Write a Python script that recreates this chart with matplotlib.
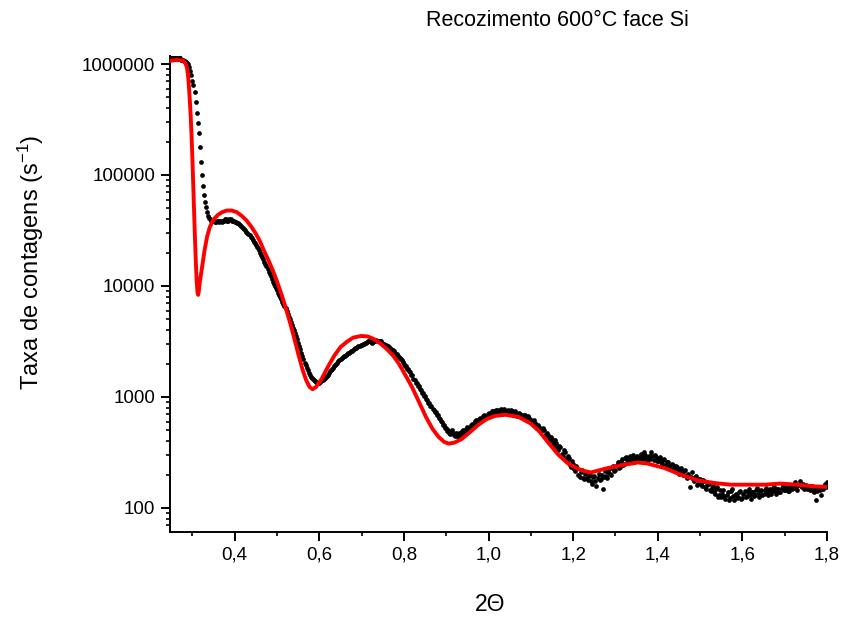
import numpy as np
import matplotlib
matplotlib.use('Agg')
import matplotlib.pyplot as plt
from matplotlib import ticker

plt.rcParams['font.family'] = ['Liberation Sans', 'DejaVu Sans']
plt.rcParams['mathtext.fontset'] = 'custom'
plt.rcParams['mathtext.rm'] = 'Liberation Sans'
plt.rcParams['mathtext.default'] = 'regular'

# measured scan: 2theta and log10 of count rate
two_theta = [
    0.2500, 0.2525, 0.2550, 0.2575, 0.2600, 0.2625, 0.2650, 0.2675, 0.2700, 0.2725,
    0.2750, 0.2775, 0.2800, 0.2825, 0.2850, 0.2875, 0.2900, 0.2925, 0.2950, 0.2975,
    0.3000, 0.3025, 0.3050, 0.3075, 0.3100, 0.3125, 0.3150, 0.3175, 0.3200, 0.3225,
    0.3250, 0.3275, 0.3300, 0.3325, 0.3350, 0.3375, 0.3400, 0.3425, 0.3450, 0.3475,
    0.3500, 0.3525, 0.3550, 0.3575, 0.3600, 0.3625, 0.3650, 0.3675, 0.3700, 0.3725,
    0.3750, 0.3775, 0.3800, 0.3825, 0.3850, 0.3875, 0.3900, 0.3925, 0.3950, 0.3975,
    0.4000, 0.4025, 0.4050, 0.4075, 0.4100, 0.4125, 0.4150, 0.4175, 0.4200, 0.4225,
    0.4250, 0.4275, 0.4300, 0.4325, 0.4350, 0.4375, 0.4400, 0.4425, 0.4450, 0.4475,
    0.4500, 0.4525, 0.4550, 0.4575, 0.4600, 0.4625, 0.4650, 0.4675, 0.4700, 0.4725,
    0.4750, 0.4775, 0.4800, 0.4825, 0.4850, 0.4875, 0.4900, 0.4925, 0.4950, 0.4975,
    0.5000, 0.5025, 0.5050, 0.5075, 0.5100, 0.5125, 0.5150, 0.5175, 0.5200, 0.5225,
    0.5250, 0.5275, 0.5300, 0.5325, 0.5350, 0.5375, 0.5400, 0.5425, 0.5450, 0.5475,
    0.5500, 0.5525, 0.5550, 0.5575, 0.5600, 0.5625, 0.5650, 0.5675, 0.5700, 0.5725,
    0.5750, 0.5775, 0.5800, 0.5825, 0.5850, 0.5875, 0.5900, 0.5925, 0.5950, 0.5975,
    0.6000, 0.6025, 0.6050, 0.6075, 0.6100, 0.6125, 0.6150, 0.6175, 0.6200, 0.6225,
    0.6250, 0.6275, 0.6300, 0.6325, 0.6350, 0.6375, 0.6400, 0.6425, 0.6450, 0.6475,
    0.6500, 0.6525, 0.6550, 0.6575, 0.6600, 0.6625, 0.6650, 0.6675, 0.6700, 0.6725,
    0.6750, 0.6775, 0.6800, 0.6825, 0.6850, 0.6875, 0.6900, 0.6925, 0.6950, 0.6975,
    0.7000, 0.7025, 0.7050, 0.7075, 0.7100, 0.7125, 0.7150, 0.7175, 0.7200, 0.7225,
    0.7250, 0.7275, 0.7300, 0.7325, 0.7350, 0.7375, 0.7400, 0.7425, 0.7450, 0.7475,
    0.7500, 0.7525, 0.7550, 0.7575, 0.7600, 0.7625, 0.7650, 0.7675, 0.7700, 0.7725,
    0.7750, 0.7775, 0.7800, 0.7825, 0.7850, 0.7875, 0.7900, 0.7925, 0.7950, 0.7975,
    0.8000, 0.8025, 0.8050, 0.8075, 0.8100, 0.8125, 0.8150, 0.8175, 0.8200, 0.8225,
    0.8250, 0.8275, 0.8300, 0.8325, 0.8350, 0.8375, 0.8400, 0.8425, 0.8450, 0.8475,
    0.8500, 0.8525, 0.8550, 0.8575, 0.8600, 0.8625, 0.8650, 0.8675, 0.8700, 0.8725,
    0.8750, 0.8775, 0.8800, 0.8825, 0.8850, 0.8875, 0.8900, 0.8925, 0.8950, 0.8975,
    0.9000, 0.9025, 0.9050, 0.9075, 0.9100, 0.9125, 0.9150, 0.9175, 0.9200, 0.9225,
    0.9250, 0.9275, 0.9300, 0.9325, 0.9350, 0.9375, 0.9400, 0.9425, 0.9450, 0.9475,
    0.9500, 0.9525, 0.9550, 0.9575, 0.9600, 0.9625, 0.9650, 0.9675, 0.9700, 0.9725,
    0.9750, 0.9775, 0.9800, 0.9825, 0.9850, 0.9875, 0.9900, 0.9925, 0.9950, 0.9975,
    1.0000, 1.0025, 1.0050, 1.0075, 1.0100, 1.0125, 1.0150, 1.0175, 1.0200, 1.0225,
    1.0250, 1.0275, 1.0300, 1.0325, 1.0350, 1.0375, 1.0400, 1.0425, 1.0450, 1.0475,
    1.0500, 1.0525, 1.0550, 1.0575, 1.0600, 1.0625, 1.0650, 1.0675, 1.0700, 1.0725,
    1.0750, 1.0775, 1.0800, 1.0825, 1.0850, 1.0875, 1.0900, 1.0925, 1.0950, 1.0975,
    1.1000, 1.1025, 1.1050, 1.1075, 1.1100, 1.1125, 1.1150, 1.1175, 1.1200, 1.1225,
    1.1250, 1.1275, 1.1300, 1.1325, 1.1350, 1.1375, 1.1400, 1.1425, 1.1450, 1.1475,
    1.1500, 1.1525, 1.1550, 1.1575, 1.1600, 1.1625, 1.1650, 1.1675, 1.1700, 1.1725,
    1.1750, 1.1775, 1.1800, 1.1825, 1.1850, 1.1875, 1.1900, 1.1925, 1.1950, 1.1975,
    1.2000, 1.2025, 1.2050, 1.2075, 1.2100, 1.2125, 1.2150, 1.2175, 1.2200, 1.2225,
    1.2250, 1.2275, 1.2300, 1.2325, 1.2350, 1.2375, 1.2400, 1.2425, 1.2450, 1.2475,
    1.2500, 1.2525, 1.2550, 1.2575, 1.2600, 1.2625, 1.2650, 1.2675, 1.2700, 1.2725,
    1.2750, 1.2775, 1.2800, 1.2825, 1.2850, 1.2875, 1.2900, 1.2925, 1.2950, 1.2975,
    1.3000, 1.3025, 1.3050, 1.3075, 1.3100, 1.3125, 1.3150, 1.3175, 1.3200, 1.3225,
    1.3250, 1.3275, 1.3300, 1.3325, 1.3350, 1.3375, 1.3400, 1.3425, 1.3450, 1.3475,
    1.3500, 1.3525, 1.3550, 1.3575, 1.3600, 1.3625, 1.3650, 1.3675, 1.3700, 1.3725,
    1.3750, 1.3775, 1.3800, 1.3825, 1.3850, 1.3875, 1.3900, 1.3925, 1.3950, 1.3975,
    1.4000, 1.4025, 1.4050, 1.4075, 1.4100, 1.4125, 1.4150, 1.4175, 1.4200, 1.4225,
    1.4250, 1.4275, 1.4300, 1.4325, 1.4350, 1.4375, 1.4400, 1.4425, 1.4450, 1.4475,
    1.4500, 1.4525, 1.4550, 1.4575, 1.4600, 1.4625, 1.4650, 1.4675, 1.4700, 1.4725,
    1.4750, 1.4775, 1.4800, 1.4825, 1.4850, 1.4875, 1.4900, 1.4925, 1.4950, 1.4975,
    1.5000, 1.5025, 1.5050, 1.5075, 1.5100, 1.5125, 1.5150, 1.5175, 1.5200, 1.5225,
    1.5250, 1.5275, 1.5300, 1.5325, 1.5350, 1.5375, 1.5400, 1.5425, 1.5450, 1.5475,
    1.5500, 1.5525, 1.5550, 1.5575, 1.5600, 1.5625, 1.5650, 1.5675, 1.5700, 1.5725,
    1.5750, 1.5775, 1.5800, 1.5825, 1.5850, 1.5875, 1.5900, 1.5925, 1.5950, 1.5975,
    1.6000, 1.6025, 1.6050, 1.6075, 1.6100, 1.6125, 1.6150, 1.6175, 1.6200, 1.6225,
    1.6250, 1.6275, 1.6300, 1.6325, 1.6350, 1.6375, 1.6400, 1.6425, 1.6450, 1.6475,
    1.6500, 1.6525, 1.6550, 1.6575, 1.6600, 1.6625, 1.6650, 1.6675, 1.6700, 1.6725,
    1.6750, 1.6775, 1.6800, 1.6825, 1.6850, 1.6875, 1.6900, 1.6925, 1.6950, 1.6975,
    1.7000, 1.7025, 1.7050, 1.7075, 1.7100, 1.7125, 1.7150, 1.7175, 1.7200, 1.7225,
    1.7250, 1.7275, 1.7300, 1.7325, 1.7350, 1.7375, 1.7400, 1.7425, 1.7450, 1.7475,
    1.7500, 1.7525, 1.7550, 1.7575, 1.7600, 1.7625, 1.7650, 1.7675, 1.7700, 1.7725,
    1.7750, 1.7775, 1.7800, 1.7825, 1.7850, 1.7875, 1.7900, 1.7925, 1.7950, 1.7975,
    1.8000,
]
log_counts = [
    6.05, 6.06, 6.06, 6.05, 6.05, 6.05, 6.05, 6.06, 6.05, 6.04,
    6.04, 6.04, 6.03, 6.03, 6.02, 6.01, 6.00, 5.97, 5.94, 5.90,
    5.85, 5.81, 5.75, 5.66, 5.56, 5.47, 5.38, 5.25, 5.12, 5.00,
    4.90, 4.82, 4.76, 4.71, 4.67, 4.63, 4.61, 4.60, 4.59, 4.59,
    4.59, 4.58, 4.58, 4.59, 4.59, 4.58, 4.59, 4.59, 4.58, 4.59,
    4.59, 4.60, 4.60, 4.59, 4.59, 4.60, 4.60, 4.59, 4.59, 4.59,
    4.58, 4.58, 4.57, 4.565, 4.56, 4.55, 4.54, 4.53, 4.52, 4.51,
    4.50, 4.49, 4.48, 4.47, 4.46, 4.445, 4.43, 4.415, 4.40, 4.385,
    4.37, 4.355, 4.34, 4.32, 4.30, 4.28, 4.26, 4.24, 4.22, 4.20,
    4.18, 4.155, 4.13, 4.11, 4.09, 4.065, 4.04, 4.02, 4.00, 3.98,
    3.96, 3.94, 3.92, 3.90, 3.88, 3.86, 3.84, 3.82, 3.80, 3.775,
    3.75, 3.725, 3.70, 3.675, 3.65, 3.625, 3.60, 3.575, 3.55, 3.52,
    3.49, 3.46, 3.43, 3.40, 3.37, 3.34, 3.31, 3.285, 3.26, 3.24,
    3.22, 3.20, 3.18, 3.17, 3.16, 3.15, 3.14, 3.135, 3.13, 3.13,
    3.13, 3.135, 3.14, 3.15, 3.16, 3.17, 3.18, 3.19, 3.20, 3.215,
    3.23, 3.24, 3.25, 3.265, 3.28, 3.29, 3.30, 3.31, 3.32, 3.33,
    3.34, 3.35, 3.36, 3.365, 3.37, 3.38, 3.39, 3.395, 3.40, 3.405,
    3.41, 3.415, 3.42, 3.43, 3.44, 3.445, 3.45, 3.455, 3.46, 3.465,
    3.47, 3.475, 3.48, 3.485, 3.49, 3.495, 3.50, 3.50, 3.50, 3.495,
    3.49, 3.495, 3.50, 3.505, 3.51, 3.505, 3.50, 3.505, 3.50, 3.49,
    3.48, 3.475, 3.47, 3.465, 3.46, 3.455, 3.45, 3.44, 3.43, 3.425,
    3.42, 3.41, 3.40, 3.385, 3.37, 3.36, 3.35, 3.34, 3.33, 3.315,
    3.30, 3.28, 3.275, 3.25, 3.255, 3.23, 3.225, 3.20, 3.195, 3.165,
    3.155, 3.13, 3.125, 3.10, 3.095, 3.07, 3.065, 3.04, 3.035, 3.01,
    3.005, 2.98, 2.975, 2.95, 2.945, 2.92, 2.915, 2.89, 2.885, 2.865,
    2.865, 2.84, 2.835, 2.81, 2.805, 2.78, 2.775, 2.75, 2.745, 2.725,
    2.72, 2.69, 2.70, 2.68, 2.67, 2.70, 2.68, 2.66, 2.65, 2.68,
    2.66, 2.64, 2.68, 2.67, 2.66, 2.69, 2.70, 2.67, 2.69, 2.71,
    2.73, 2.70, 2.72, 2.75, 2.76, 2.74, 2.75, 2.78, 2.79, 2.76,
    2.77, 2.80, 2.81, 2.79, 2.80, 2.83, 2.84, 2.81, 2.82, 2.85,
    2.86, 2.83, 2.84, 2.87, 2.87, 2.85, 2.85, 2.88, 2.88, 2.86,
    2.86, 2.88, 2.89, 2.85, 2.86, 2.89, 2.87, 2.85, 2.88, 2.87,
    2.85, 2.88, 2.87, 2.84, 2.85, 2.87, 2.86, 2.83, 2.84, 2.86,
    2.85, 2.82, 2.82, 2.84, 2.84, 2.80, 2.80, 2.83, 2.81, 2.78,
    2.79, 2.77, 2.76, 2.79, 2.77, 2.74, 2.72, 2.75, 2.73, 2.70,
    2.69, 2.72, 2.70, 2.66, 2.65, 2.68, 2.66, 2.62, 2.61, 2.64,
    2.62, 2.59, 2.57, 2.61, 2.59, 2.54, 2.52, 2.56, 2.55, 2.49,
    2.47, 2.52, 2.50, 2.44, 2.42, 2.47, 2.45, 2.39, 2.37, 2.42,
    2.40, 2.35, 2.33, 2.38, 2.36, 2.30, 2.28, 2.32, 2.34, 2.27,
    2.26, 2.31, 2.32, 2.27, 2.25, 2.29, 2.30, 2.24, 2.22, 2.28,
    2.29, 2.24, 2.20, 2.27, 2.31, 2.25, 2.26, 2.30, 2.17, 2.28,
    2.33, 2.29, 2.27, 2.32, 2.35, 2.31, 2.30, 2.36, 2.38, 2.33,
    2.34, 2.39, 2.41, 2.36, 2.37, 2.42, 2.44, 2.39, 2.40, 2.45,
    2.46, 2.43, 2.41, 2.45, 2.47, 2.44, 2.42, 2.48, 2.45, 2.43,
    2.47, 2.45, 2.43, 2.46, 2.49, 2.46, 2.44, 2.50, 2.48, 2.45,
    2.42, 2.45, 2.47, 2.44, 2.50, 2.47, 2.43, 2.48, 2.46, 2.42,
    2.42, 2.44, 2.46, 2.41, 2.40, 2.43, 2.44, 2.39, 2.37, 2.41,
    2.41, 2.38, 2.35, 2.40, 2.39, 2.36, 2.34, 2.38, 2.37, 2.33,
    2.31, 2.34, 2.36, 2.32, 2.30, 2.33, 2.34, 2.29, 2.27, 2.31,
    2.19, 2.28, 2.32, 2.26, 2.24, 2.28, 2.29, 2.21, 2.22, 2.26,
    2.26, 2.22, 2.20, 2.25, 2.24, 2.19, 2.17, 2.21, 2.22, 2.16,
    2.15, 2.18, 2.20, 2.14, 2.13, 2.17, 2.19, 2.10, 2.12, 2.16,
    2.10, 2.13, 2.16, 2.11, 2.08, 2.12, 2.14, 2.07, 2.09, 2.15,
    2.17, 2.11, 2.07, 2.12, 2.13, 2.09, 2.10, 2.14, 2.15, 2.08,
    2.09, 2.13, 2.15, 2.10, 2.11, 2.14, 2.17, 2.12, 2.08, 2.14,
    2.14, 2.11, 2.12, 2.16, 2.18, 2.13, 2.10, 2.15, 2.16, 2.12,
    2.13, 2.16, 2.18, 2.14, 2.12, 2.16, 2.17, 2.13, 2.15, 2.18,
    2.19, 2.15, 2.13, 2.17, 2.17, 2.14, 2.14, 2.18, 2.20, 2.16,
    2.16, 2.18, 2.19, 2.15, 2.15, 2.19, 2.21, 2.17, 2.18, 2.20,
    2.23, 2.19, 2.16, 2.21, 2.24, 2.20, 2.19, 2.22, 2.17, 2.20,
    2.21, 2.17, 2.18, 2.20, 2.16, 2.19, 2.20, 2.15, 2.14, 2.18,
    2.07, 2.15, 2.19, 2.16, 2.12, 2.18, 2.17, 2.20, 2.22, 2.19,
    2.23,
]

# simulated reflectivity (fit)
fit_theta = [
    0.250, 0.260, 0.270, 0.278, 0.283, 0.287, 0.290, 0.292, 0.294, 0.296,
    0.298, 0.300, 0.302, 0.304, 0.306, 0.308, 0.310, 0.312, 0.3135, 0.315,
    0.317, 0.320, 0.324, 0.329, 0.335, 0.341, 0.350, 0.360, 0.370, 0.381,
    0.393, 0.405, 0.417, 0.428, 0.440, 0.450, 0.460, 0.470, 0.480, 0.490,
    0.500, 0.510, 0.520, 0.530, 0.540, 0.550, 0.560, 0.569, 0.577, 0.584,
    0.592, 0.605, 0.620, 0.635, 0.650, 0.666, 0.680, 0.699, 0.715, 0.730,
    0.745, 0.760, 0.775, 0.788, 0.800, 0.819, 0.835, 0.852, 0.868, 0.882,
    0.895, 0.906, 0.920, 0.936, 0.955, 0.976, 0.995, 1.016, 1.040, 1.071,
    1.100, 1.120, 1.141, 1.165, 1.188, 1.219, 1.242, 1.282, 1.322, 1.353,
    1.376, 1.416, 1.454, 1.494, 1.534, 1.572, 1.652, 1.690, 1.729, 1.769,
    1.800,
]
fit_log = [
    6.03, 6.035, 6.035, 6.03, 6.01, 5.97, 5.88, 5.78, 5.66, 5.52,
    5.35, 5.14, 4.90, 4.66, 4.43, 4.22, 4.05, 3.94, 3.92, 3.95,
    4.02, 4.10, 4.20, 4.33, 4.45, 4.53, 4.60, 4.64, 4.665, 4.68,
    4.68, 4.665, 4.63, 4.59, 4.53, 4.47, 4.40, 4.31, 4.23, 4.14,
    4.04, 3.93, 3.81, 3.68, 3.54, 3.39, 3.25, 3.15, 3.09, 3.07,
    3.09, 3.16, 3.27, 3.37, 3.45, 3.50, 3.535, 3.55, 3.545, 3.52,
    3.48, 3.43, 3.37, 3.30, 3.22, 3.09, 2.96, 2.82, 2.71, 2.64,
    2.595, 2.58, 2.59, 2.62, 2.68, 2.75, 2.80, 2.83, 2.84, 2.82,
    2.76, 2.69, 2.59, 2.48, 2.40, 2.34, 2.32, 2.36, 2.39, 2.41,
    2.40, 2.36, 2.30, 2.25, 2.225, 2.21, 2.21, 2.22, 2.21, 2.195,
    2.19,
]

counts = 10 ** np.array(log_counts)
fit_counts = 10 ** np.array(fit_log)

fig = plt.figure(figsize=(8.45, 6.17), dpi=100)
ax = fig.add_axes([0.2012, 0.1378, 0.7775, 0.7714])

ax.plot(two_theta, counts, 'o', color='black', markersize=3.4, markeredgewidth=0, zorder=2)
ax.plot(fit_theta, fit_counts, '-', color='#ff0000', linewidth=2.8, zorder=3)

ax.set_yscale('log')
ax.set_xlim(0.247, 1.8)
ax.set_ylim(60.8, 1.18e6)

ax.xaxis.set_major_locator(ticker.MultipleLocator(0.2))
ax.xaxis.set_minor_locator(ticker.MultipleLocator(0.1))
ax.xaxis.set_major_formatter(ticker.FuncFormatter(lambda v, p: f'{v:.1f}'.replace('.', ',')))
ax.yaxis.set_major_locator(ticker.LogLocator(base=10, numticks=10))
ax.yaxis.set_minor_locator(ticker.LogLocator(base=10, subs=np.arange(2, 10), numticks=20))
ax.yaxis.set_major_formatter(ticker.FuncFormatter(lambda v, p: f'{v:.0f}'))
ax.yaxis.set_minor_formatter(ticker.NullFormatter())

for side in ('top', 'right'):
    ax.spines[side].set_visible(False)
for side in ('left', 'bottom'):
    ax.spines[side].set_linewidth(1.4)

ax.tick_params(which='major', direction='out', length=6.5, width=1.4, labelsize=13.5, pad=4)
ax.tick_params(which='minor', direction='out', length=3, width=1.2)
ax.tick_params(axis='x', which='major', pad=4)

fig.text(0.036, 0.575, 'Taxa de contagens (s$^{-1}$)', rotation=90,
         ha='center', va='center', fontsize=17)
fig.text(0.580, 0.021, '2\u0398', ha='center', va='center', fontsize=16.5)
fig.text(0.660, 0.966, 'Recozimento 600\u00b0C face Si', ha='center', va='center', fontsize=15.5)

fig.savefig('out.png', dpi=100)
